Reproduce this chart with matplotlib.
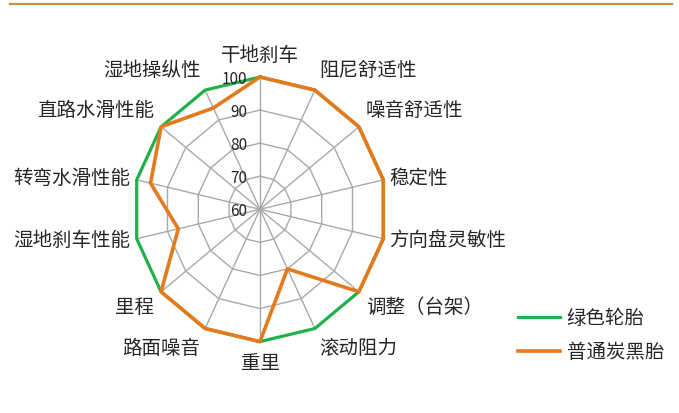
import numpy as np
import matplotlib
matplotlib.use("Agg")
import matplotlib.pyplot as plt
from matplotlib.lines import Line2D

plt.rcParams['font.family'] = ['Noto Sans CJK SC', 'DejaVu Sans']

# Performance attributes, clockwise from the top
categories = ["干地刹车", "阻尼舒适性", "噪音舒适性", "稳定性", "方向盘灵敏性",
              "调整（台架）", "滚动阻力", "重里", "路面噪音", "里程",
              "湿地刹车性能", "转弯水滑性能", "直路水滑性能", "湿地操纵性"]

green_tyre = [100, 100, 100, 100, 100, 100, 100, 100, 100, 100, 100, 100, 100, 100]
carbon_black_tyre = [100, 100, 100, 100, 100, 100, 80, 100, 100, 100, 86.5, 95.5, 100, 94]

series_names = ["绿色轮胎", "普通炭黑胎"]
radial_ticks = [60, 70, 80, 90, 100]

GREEN = "#22B04A"
ORANGE = "#E47A1E"
GRID = "#A9A9A9"
TEXT = "#262626"

W, H = 679, 413
fig = plt.figure(figsize=(W / 100, H / 100), dpi=100)

# thin rule across the top of the figure
fig.add_artist(Line2D([10 / W, 672 / W], [1 - 3.5 / H, 1 - 3.5 / H],
                      color="#C6914A", lw=1.6))

cx, cy, rx, ry = 260, 209.3, 126.5, 132.3
ax = fig.add_axes([(cx - rx) / W, (H - cy - ry) / H, 2 * rx / W, 2 * ry / H],
                  projection="polar")
ax.set_aspect("auto")
ax.set_theta_zero_location("N")
ax.set_theta_direction(-1)
ax.set_ylim(radial_ticks[0], radial_ticks[-1])
ax.grid(False)
ax.spines["polar"].set_visible(False)
ax.set_xticks([])
ax.set_yticks([])
ax.patch.set_visible(False)

n = len(categories)
theta = np.arange(n) * 2 * np.pi / n
theta_closed = np.append(theta, theta[0])

# polygonal web
for level in radial_ticks[1:]:
    ax.plot(theta_closed, [level] * (n + 1), color=GRID, lw=1.0,
            clip_on=False, zorder=1)
for t in theta:
    ax.plot([t, t], [radial_ticks[0], radial_ticks[-1]], color=GRID, lw=1.0,
            clip_on=False, zorder=1)

def closed(vals):
    return list(vals) + [vals[0]]

l1, = ax.plot(theta_closed, closed(green_tyre), color=GREEN, lw=2.3,
              clip_on=False, zorder=3, label=series_names[0])
l2, = ax.plot(theta_closed, closed(carbon_black_tyre), color=ORANGE, lw=2.6,
              clip_on=False, zorder=4, label=series_names[1])

# radial scale labels along the top spoke
for v in radial_ticks:
    ax.annotate(str(v), xy=(0, v), xytext=(-9, -1.5), textcoords="offset points",
                ha="right", va="center", fontsize=11, color=TEXT, zorder=5)

# category labels around the web
for t, name in zip(theta, categories):
    s, c = np.sin(t), np.cos(t)
    ha = "center" if abs(s) < 0.2 else ("left" if s > 0 else "right")
    va = "center" if abs(c) < 0.4 else ("bottom" if c > 0 else "top")
    gap = 3.5 + 4.5 * abs(c)
    ax.annotate(name, xy=(t, 100), xytext=(gap * s, gap * c),
                textcoords="offset points", ha=ha, va=va,
                fontsize=14, color=TEXT, annotation_clip=False)

fig.legend(handles=[l1, l2], labels=series_names, loc="center left",
           bbox_to_anchor=(518 / W, 1 - 335.5 / H), frameon=False,
           fontsize=14, handlelength=2.15, handletextpad=0.36,
           labelspacing=0.68, borderpad=0, borderaxespad=0,
           labelcolor=TEXT)

fig.savefig("out.png", dpi=100, facecolor="white")
